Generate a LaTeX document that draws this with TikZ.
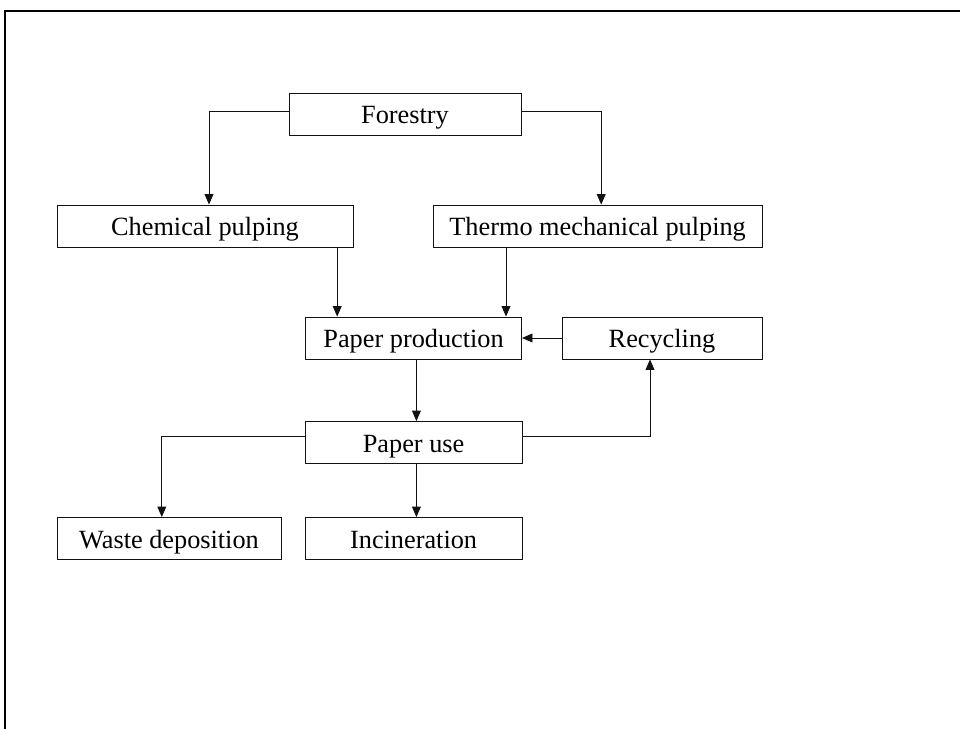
\documentclass[tikz,border=0pt]{standalone}
\usepackage{fontspec}
\setmainfont{Liberation Serif}
\usetikzlibrary{arrows.meta, positioning, calc}
\definecolor{Ink}{HTML}{111111}

\begin{document}
\begin{tikzpicture}[
    procbox/.style={draw=Ink, line width=0.6pt, rectangle, minimum height=1.05cm,
        inner sep=0pt, text height=0.5cm, text depth=0pt,
        font=\fontsize{18.7}{22}\selectfont},
    flowarr/.style={draw=Ink, line width=0.6pt, -{Triangle[length=2.6mm, width=2.2mm]}},
    framelin/.style={draw=black, line width=1.4pt}
]

\useasboundingbox (0,0) rectangle (24,18.225);

% =============================================
% Frame (cut off at right and bottom)
% =============================================
\draw[framelin] (0.125,0) -- (0.125,17.95) -- (24,17.95);

% =============================================
% Boxes
% =============================================
\node[procbox, minimum width=5.8cm] (forest) at (10.125, 15.375) {Forestry};
\node[procbox, minimum width=7.4cm] (chem) at (5.125, 12.575) {Chemical pulping};
\node[procbox, minimum width=8.225cm] (thermo) at (14.94, 12.575) {Thermo mechanical pulping};
\node[procbox, minimum width=5.4cm] (pprod) at (10.34, 9.775) {Paper production};
\node[procbox, minimum width=5.0cm] (recyc) at (16.55, 9.775) {Recycling};
\node[procbox, minimum width=5.425cm] (puse) at (10.34, 7.1625) {Paper use};
\node[procbox, minimum width=5.6cm] (waste) at (4.225, 4.7625) {Waste deposition};
\node[procbox, minimum width=5.425cm] (incin) at (10.34, 4.7625) {Incineration};

% forestry to pulping
\draw[flowarr] ([yshift=0.07cm]forest.west) -| ([xshift=0.1cm]chem.north);
\draw[flowarr] ([yshift=0.07cm]forest.east) -| ([xshift=0.09cm]thermo.north);

% pulping to paper production
\draw[flowarr] ([xshift=-1.91cm]pprod.north |- chem.south) -- ([xshift=-1.91cm]pprod.north);
\draw[flowarr] ([xshift=2.31cm]pprod.north |- thermo.south) -- ([xshift=2.31cm]pprod.north);

% recycling loop
\draw[flowarr] (recyc.west) -- (pprod.east);
\draw[flowarr] ([yshift=0.14cm]puse.east) -| ([xshift=-0.3cm]recyc.south);

% production and use
\draw[flowarr] ([xshift=0.07cm]pprod.south) -- ([xshift=0.07cm]puse.north);
\draw[flowarr] ([xshift=0.07cm]puse.south) -- ([xshift=0.07cm]incin.north);
\draw[flowarr] ([yshift=0.14cm]puse.west) -| ([xshift=-0.18cm]waste.north);

\end{tikzpicture}
\end{document}
